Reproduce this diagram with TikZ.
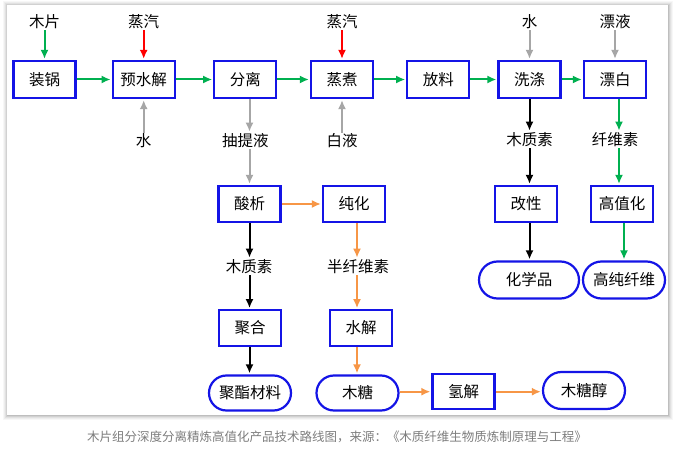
\documentclass[tikz,border=0pt]{standalone}
\usepackage{fontspec}
\setmainfont{Noto Sans CJK SC}
\usetikzlibrary{arrows.meta,shapes.misc}
\definecolor{bblue}{RGB}{20,20,230}
\definecolor{agreen}{RGB}{0,176,80}
\definecolor{ared}{RGB}{255,0,0}
\definecolor{agray}{RGB}{166,166,166}
\definecolor{aorange}{RGB}{247,150,70}
\definecolor{capgray}{RGB}{125,125,125}
\tikzset{
  txt/.style={font=\fontsize{15.5}{17}\selectfont},
  box/.style={txt, draw=bblue, line width=2.2pt, fill=white, minimum width=62pt, minimum height=37pt, inner sep=0pt},
  pill/.style={txt, draw=bblue, line width=2.2pt, fill=white, rounded rectangle, minimum width=82pt, minimum height=36pt, inner sep=0pt},
  lbl/.style={txt, inner sep=1pt},
  arr/.style={line width=2pt, -{Latex[length=9pt,width=8pt]}, shorten >=1pt},
  garr/.style={arr, draw=agreen},
  rarr/.style={arr, draw=ared},
  grarr/.style={arr, draw=agray},
  barr/.style={arr, draw=black},
  oarr/.style={arr, draw=aorange}
}
\begin{document}
\begin{tikzpicture}[x=1pt,y=-1pt]
\useasboundingbox (0,0) rectangle (675,454);
% panel with shadow
\foreach \i/\o in {5/0.03,4/0.04,3/0.05,2/0.07,1/0.09}
  \fill[black, opacity=\o] (7-\i+1,5-\i+1) rectangle (668+\i,415+\i);
\fill[white] (7,5) rectangle (668,415);

% column coordinates
\coordinate (cA) at (249.5,0);
\coordinate (cB) at (357,0);
\coordinate (cC) at (619,0);

% row 1
\node[box] (zg) at (44.5,79.5) {装锅};
\node[box] (ysj) at (143.7,79.5) {预水解};
\node[box] (fl) at (245.3,79.5) {分离};
\node[box] (zz) at (342,79.5) {蒸煮};
\node[box] (fangl) at (438.3,79.5) {放料};
\node[box] (xd) at (529.5,79.5) {洗涤};
\node[box] (pb) at (615,79.5) {漂白};

% top labels
\node[lbl] (mp) at (44.5,22) {木片};
\node[lbl] (zq1) at (143.7,22) {蒸汽};
\node[lbl] (zq2) at (342,22) {蒸汽};
\node[lbl] (s1) at (529.5,22) {水};
\node[lbl] (py) at (615,22) {漂液};

% bottom labels
\node[lbl] (s2) at (143.7,141) {水};
\node[lbl] (ctye) at (245.3,141) {抽提液};
\node[lbl] (by) at (342,141) {白液};
\node[lbl] (mzs1) at (529.5,140) {木质素};
\node[lbl] (xws) at (615,140) {纤维素};

% row 2
\node[box, minimum height=36pt] (sx) at (249.5,204) {酸析};
\node[box, minimum height=36pt] (ch) at (354,204) {纯化};
\node[box, minimum height=36pt] (gx) at (526,204) {改性};
\node[box, minimum height=36pt] (gzh) at (622,204) {高值化};

\node[lbl] (mzs2) at (249,267) {木质素};
\node[lbl] (bxws) at (358,267) {半纤维素};

\node[pill, minimum width=100pt, minimum height=37pt] (hxp) at (529,280) {化学品};
\node[pill, minimum height=37pt] (gcxw) at (624,280) {高纯纤维};

% row 3
\node[box, minimum height=35.5pt] (jh) at (250,328) {聚合};
\node[box, minimum height=35.5pt] (sj) at (361,328) {水解};

% row 4
\node[pill, minimum height=35pt] (jzcl) at (250,393) {聚酯材料};
\node[pill, minimum height=35pt] (mt) at (357.5,393) {木糖};
\node[box, minimum height=35pt] (qj) at (463.5,391.7) {氢解};
\node[pill, minimum height=37pt] (mtc) at (584,390.5) {木糖醇};

% caption
\node[font=\fontsize{12.5}{14}\selectfont, text=capgray] (cap) at (337,437)
  {木片组分深度分离精炼高值化产品技术路线图，来源：《木质纤维生物质炼制原理与工程》};

% green
\draw[garr] (mp) -- (zg);
\draw[garr] (zg) -- (ysj);
\draw[garr] (ysj) -- (fl);
\draw[garr] (fl) -- (zz);
\draw[garr] (zz) -- (fangl);
\draw[garr] (fangl) -- (xd);
\draw[garr] (xd) -- (pb);
\draw[garr] (pb.south -| cC) -- (xws.north -| cC);
\draw[garr] (xws.south -| cC) -- (gzh.north -| cC);
\draw[garr] (gzh.south -| gcxw.north) -- (gcxw.north);

% red
\draw[rarr] (zq1) -- (ysj);
\draw[rarr] (zq2) -- (zz);

% gray
\draw[grarr] (s2) -- (ysj);
\draw[grarr] (by) -- (zz);
\draw[grarr] (s1) -- (xd);
\draw[grarr] (py) -- (pb);
\draw[grarr] (fl.south -| cA) -- (ctye.north -| cA);
\draw[grarr] (ctye.south -| cA) -- (sx.north -| cA);

% black
\draw[barr] (xd.south -| mzs1.north) -- (mzs1.north);
\draw[barr] (mzs1.south) -- (gx.north -| mzs1.south);
\draw[barr] (gx.south -| mzs1.south) -- (hxp.north -| mzs1.south);
\draw[barr] (sx.south -| cA) -- (mzs2.north -| cA);
\draw[barr] (mzs2.south -| cA) -- (jh.north -| cA);
\draw[barr] (jh.south -| cA) -- (jzcl.north -| cA);

% orange
\draw[oarr] (sx) -- (ch);
\draw[oarr] (ch.south -| cB) -- (bxws.north -| cB);
\draw[oarr] (bxws.south -| cB) -- (sj.north -| cB);
\draw[oarr] (sj.south -| cB) -- (mt.north -| cB);
\draw[oarr] (mt.east |- qj.west) -- (qj.west);
\draw[oarr] (qj.east) -- (qj.east -| mtc.west);
\end{tikzpicture}
\end{document}
